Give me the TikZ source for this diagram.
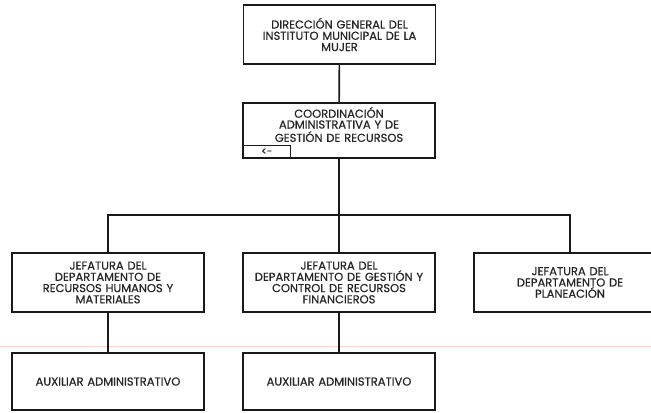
\documentclass[tikz,border=0pt]{standalone}
\usepackage{fontspec}
\setmainfont{Poppins}[FakeBold=0.6]
\tikzset{
  unit/.style={rectangle,draw=black!90,line width=1.4pt,minimum width=5.76cm,
    text width=5.6cm,align=center,inner sep=2pt,
    font=\fontsize{9.8}{9.6}\selectfont,text=black!85},
  link/.style={draw=black!90,line width=1.4pt}
}
\begin{document}
\begin{tikzpicture}[x=0.03cm,y=-0.03cm]
\useasboundingbox (0,0) rectangle (651,412);
\draw[pink!70,line width=0.5pt] (0,346) -- (651,346);
\node[unit,minimum height=1.77cm] (dir) at (339.5,34.5) {DIRECCIÓN GENERAL DEL\\INSTITUTO MUNICIPAL DE LA\\MUJER};
\node[unit,minimum height=1.65cm] (coord) at (339,130.5)
  {\renewcommand{\arraystretch}{0.8}\raisebox{1.5pt}[0pt][0pt]{\begin{tabular}{@{}c@{}}COORDINACIÓN\\ADMINISTRATIVA Y DE\\GESTIÓN DE RECURSOS\end{tabular}}};
\node[rectangle,draw=black!90,line width=1.1pt,minimum width=1.44cm,minimum height=0.39cm,
  inner sep=0pt,anchor=south west,font=\fontsize{8.5}{9}\selectfont,text=black!85]
  (back) at (coord.south west) {<-};
\node[unit,minimum height=1.77cm] (rh) at (108,282.5) {JEFATURA DEL\\DEPARTAMENTO DE\\RECURSOS HUMANOS Y\\MATERIALES};
\node[unit,minimum height=1.77cm] (fin) at (339,282.5) {JEFATURA DEL\\DEPARTAMENTO DE GESTIÓN Y\\CONTROL DE RECURSOS\\FINANCIEROS};
\node[unit,minimum height=1.77cm] (plan) at (570,282.5) {JEFATURA DEL\\DEPARTAMENTO DE\\PLANEACIÓN};
\node[unit,minimum height=1.71cm] (aux1) at (108,381.5) {AUXILIAR ADMINISTRATIVO};
\node[unit,minimum height=1.71cm] (aux2) at (339,381.5) {AUXILIAR ADMINISTRATIVO};
\coordinate (bus) at (339,215);
\draw[link] (dir) -- (coord);
\draw[link] (coord) -- (fin);
\draw[link] (rh.north) |- (bus) -| (plan.north);
\draw[link] (rh) -- (aux1);
\draw[link] (fin) -- (aux2);
\end{tikzpicture}
\end{document}
